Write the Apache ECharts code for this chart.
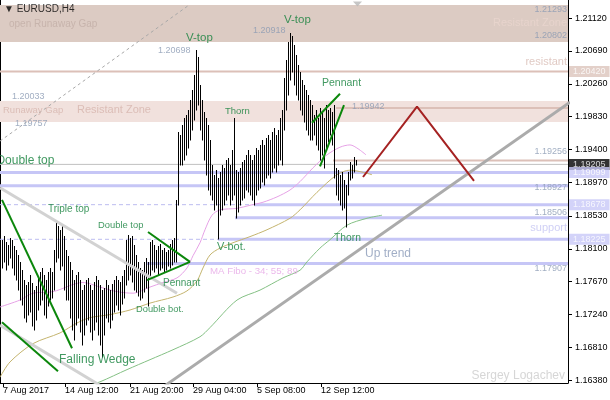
<!DOCTYPE html>
<html><head><meta charset="utf-8">
<style>html,body{margin:0;padding:0;background:#fff}#c{width:610px;height:400px}</style>
<script src="https://cdn.jsdelivr.net/npm/echarts@6/dist/echarts.min.js"></script>
</head><body><div id="c"></div>
<script>
// ---------- DATA ----------
const barHigh = [1.1822,1.1827,1.1819,1.1815,1.1824,1.1822,1.1814,1.1809,1.1802,1.1793,
1.1782,1.1769,1.1763,1.1767,1.1776,1.1765,1.1756,1.1761,1.1772,1.1780,
1.1785,1.1776,1.1769,1.1780,1.1785,1.1780,1.1809,1.1848,1.1840,1.1835,
1.1843,1.1827,1.1809,1.1801,1.1793,1.1782,1.1769,1.1776,1.1780,1.1769,
1.1756,1.1763,1.1769,1.1772,1.1763,1.1756,1.1767,1.1774,1.1769,1.1763,
1.1756,1.1759,1.1769,1.1763,1.1756,1.1764,1.1769,1.1774,1.1769,1.1767,
1.1774,1.1782,1.1822,1.1828,1.1824,1.1827,1.1815,1.1802,1.1793,1.1785,
1.1782,1.1793,1.1798,1.1793,1.1819,1.1822,1.1815,1.1809,1.1814,1.1816,
1.1809,1.1811,1.1806,1.1809,1.1816,1.1822,1.1824,1.1874,1.1963,1.1959,
1.1972,1.1981,1.1985,1.1992,1.2005,1.2018,1.2038,1.2070,1.2061,1.2024,
1.2005,1.1989,1.1981,1.1972,1.1952,1.1920,1.1907,1.1913,1.1903,1.1911,
1.1920,1.1916,1.1926,1.1929,1.1920,1.1939,1.1981,1.1913,1.1911,1.1916,
1.1924,1.1926,1.1933,1.1939,1.1933,1.1926,1.1933,1.1942,1.1939,1.1946,
1.1952,1.1946,1.1955,1.1959,1.1952,1.1963,1.1968,1.1959,1.1966,1.1981,
1.1992,1.2034,1.2057,1.2081,1.2092,1.2088,1.2077,1.2064,1.2051,1.2041,
1.2031,1.2024,1.2018,1.2011,1.2005,1.1998,1.1985,1.1992,1.1981,1.1994,
1.1989,1.1981,1.1998,1.1992,1.1994,1.1989,1.1998,1.1916,1.1913,1.1907,
1.1911,1.1900,1.1894,1.1911,1.1924,1.1920,1.1930,1.1926];
const barLow = [1.1785,1.1793,1.1782,1.1789,1.1798,1.1785,1.1776,1.1769,1.1756,1.1743,
1.1737,1.1720,1.1714,1.1724,1.1727,1.1709,1.1704,1.1717,1.1730,1.1737,
1.1743,1.1724,1.1720,1.1735,1.1743,1.1746,1.1756,1.1793,1.1798,1.1782,
1.1787,1.1756,1.1743,1.1743,1.1720,1.1704,1.1691,1.1710,1.1720,1.1701,
1.1684,1.1697,1.1710,1.1717,1.1701,1.1691,1.1704,1.1714,1.1697,1.1684,
1.1669,1.1697,1.1720,1.1714,1.1707,1.1717,1.1727,1.1737,1.1730,1.1724,
1.1738,1.1746,1.1763,1.1769,1.1776,1.1767,1.1756,1.1754,1.1748,1.1743,
1.1746,1.1754,1.1759,1.1735,1.1772,1.1782,1.1780,1.1785,1.1776,1.1782,
1.1785,1.1780,1.1782,1.1787,1.1785,1.1789,1.1793,1.1793,1.1867,1.1920,
1.1920,1.1926,1.1933,1.1942,1.1952,1.1966,1.1979,1.1992,1.1998,1.1966,
1.1952,1.1926,1.1907,1.1887,1.1881,1.1874,1.1861,1.1867,1.1823,1.1854,
1.1861,1.1867,1.1874,1.1881,1.1867,1.1874,1.1881,1.1851,1.1858,1.1867,
1.1874,1.1877,1.1887,1.1884,1.1881,1.1874,1.1868,1.1881,1.1887,1.1890,
1.1897,1.1894,1.1903,1.1907,1.1903,1.1911,1.1916,1.1911,1.1920,1.1926,
1.1920,1.1966,1.1992,1.2011,1.2031,1.2041,1.2024,1.2011,1.2005,1.1992,
1.1985,1.1976,1.1966,1.1959,1.1952,1.1952,1.1959,1.1946,1.1939,1.1926,
1.1933,1.1916,1.1942,1.1950,1.1959,1.1946,1.1903,1.1881,1.1874,1.1867,
1.1861,1.1863,1.1839,1.1881,1.1900,1.1903,1.1911,1.1920];

const priceTicks = [1.16380,1.16810,1.17240,1.17670,1.18100,1.18530,1.18970,1.19400,1.19830,1.20260,1.20690,1.21120];
const dateTickIdx = [0.5,31.5,64,95.5,127.5,159.5];
const dateTickLabels = ['7 Aug 2017','14 Aug 12:00','21 Aug 20:00','29 Aug 04:00','5 Sep 08:00','12 Sep 12:00'];

// moving averages [bar index, price]
const ma34 = [[-1,1.1734],[9,1.1743],[15.5,1.1752],[25.5,1.1754],[40.5,1.1766],[49,1.1760],[57.5,1.1754],[65.5,1.1752],[74,1.1760],[80.5,1.1766],[87.5,1.1772],[92.5,1.1785],[95.5,1.1801],[99,1.1818],[101.5,1.1835],[105,1.1854],[109,1.1861],[117.5,1.1863],[124,1.1867],[130.5,1.1871],[137.5,1.1878],[144,1.1887],[149,1.1898],[155.5,1.1916],[162.5,1.1933],[169,1.1943],[174,1.1946],[178,1.1941],[182,1.1933]];
const ma55 = [[-1,1.1642],[4,1.1662],[15.5,1.1686],[29,1.1700],[37.5,1.1713],[44,1.1720],[54,1.1724],[64,1.1730],[74,1.1739],[85.5,1.1747],[92.5,1.1755],[97.5,1.1768],[100.5,1.1785],[104,1.1802],[109,1.1811],[115.5,1.1818],[124,1.1826],[132.5,1.1835],[144,1.1850],[149,1.1861],[157.5,1.1884],[167.5,1.1907],[174,1.1913],[185,1.1907]];
const ma89 = [[45,1.1633],[49,1.1636],[62.5,1.1652],[74,1.1665],[85.5,1.1678],[99,1.1695],[104,1.1707],[117.5,1.1743],[129,1.1756],[140.5,1.1772],[149,1.1782],[152.5,1.1793],[159,1.1811],[164,1.1822],[172.5,1.1841],[182.5,1.1850],[190,1.1854]];

// drawn objects [bar index, price]
const wedgeTop = [[0,1.1874],[35,1.1680]];
const wedgeBottom = [[0,1.1714],[28,1.1650]];
const pennantLeftUpper = [[73,1.1832],[94,1.1793]];
const pennantLeftLower = [[72.5,1.1769],[94,1.1793]];
const pennantRightUpper = [[155,1.1975],[169,1.2013]];
const pennantRightLower = [[159,1.1918],[171,1.1998]];
const channelDashed = [[-1,1.1951],[93,1.2128]];
const channelTop = [[-1,1.1890],[87.5,1.1752]];
const channelBottom = [[-1,1.1710],[50.5,1.1629]];
const upTrend = [[81.5,1.1631],[284,1.2002]];
const projection = [[180.5,1.1904],[207.5,1.1996],[236,1.1899]];

// horizontal levels
const zones = [[1.20802,1.21293],[1.19757,1.20033]];
const brownLevels = [1.20420,1.19942,1.19256];
const brownLevelStart = [-1,167,165.5];
const blueLevels = [1.19099,1.18927,1.18678,1.18506,1.18225,1.17907];
const blueLevelStart = [-1,-1,126,116.5,108,72.5];
const dashedLevels = [1.18678,1.18225];
const dashedLevelEnd = [126,108];
const bidPrice = 1.19205;
const tagPrices = [1.20420,1.19205,1.19099,1.18678,1.18225];

// ---------- LAYOUT / STYLE ----------
const X_MIN = -1, X_MAX = 283;
const Y_MIN = 1.163448, Y_MAX = 1.21356;
const FONT = 'Liberation Sans';
const tagBg = ['#dcc4bc','#000000','#c8c8f8','#c8c8f8','#c8c8f8'];
const zoneColors = ['#dccbc3','#f1e1dd'];

const S = {
  title:{color:'#000',fontSize:10},
  num:{color:'#8a9ab3',fontSize:9},
  pat:{color:'#12803a',textShadowColor:'#e6d21e',textShadowOffsetX:-1,textShadowOffsetY:0,textShadowBlur:0},
  zoneTop:{color:'#c2aea6',fontSize:10},
  zoneTopR:{color:'#ead6ce',fontSize:11},
  zoneMid:{color:'#d6b4ac'},
  res:{color:'#d8bcb4',fontSize:11},
  sup:{color:'#c4c4f2',fontSize:11},
  trend:{color:'#8a9ab8',fontSize:12},
  ma:{color:'#e6a6e6',fontSize:9.7},
  sign:{color:'#cccccc',fontSize:12}
};
const notes = [
  {t:'\u25BC EURUSD,H4',at:[1,1.21238],s:'title'},
  {t:'open Runaway Gap',at:[3.5,1.21042],s:'zoneTop'},
  {t:'Resistant Zone',at:[282.5,1.21055],s:'zoneTopR',r:1},
  {t:'1.21293',at:[282.5,1.21225],s:'num',r:1},
  {t:'1.20802',at:[282.5,1.20885],s:'num',r:1},
  {t:'resistant',at:[282.5,1.20545],s:'res',r:1},
  {t:'1.20698',at:[78,1.20689],s:'num'},
  {t:'1.20918',at:[125.5,1.20963],s:'num'},
  {t:'V-top',at:[92,1.20859],s:'pat',f:11.5},
  {t:'V-top',at:[141,1.21094],s:'pat',f:11.5},
  {t:'1.20033',at:[5,1.20087],s:'num'},
  {t:'Runaway Gap',at:[0.5,1.19917],s:'zoneMid',f:9.5},
  {t:'Resistant Zone',at:[37.5,1.19917],s:'zoneMid',f:11},
  {t:'1.19757',at:[6.5,1.19734],s:'num'},
  {t:'Thorn',at:[111.5,1.19904],s:'pat',f:9.5},
  {t:'Pennant',at:[160,1.20270],s:'pat',f:10.5},
  {t:'1.19942',at:[175,1.19956],s:'num'},
  {t:'1.19256',at:[282.5,1.19380],s:'num',r:1},
  {t:'Double top',at:[-2.8,1.19249],s:'pat',f:12},
  {t:'1.18927',at:[282.5,1.18909],s:'num',r:1},
  {t:'Triple top',at:[23,1.18621],s:'pat',f:10},
  {t:'Double top',at:[48,1.18412],s:'pat',f:9.4},
  {t:'1.18506',at:[282.5,1.18569],s:'num',r:1},
  {t:'support',at:[282.5,1.18373],s:'sup',r:1},
  {t:'Thorn',at:[166,1.18242],s:'pat',f:10.3},
  {t:'V-bot.',at:[107.5,1.18124],s:'pat',f:11},
  {t:'Up trend',at:[181.5,1.18033],s:'trend'},
  {t:'1.17907',at:[282.5,1.17849],s:'num',r:1},
  {t:'MA Fibo - 34; 55; 89',at:[104,1.17810],s:'ma'},
  {t:'Pennant',at:[80.5,1.17653],s:'pat',f:10},
  {t:'Double bot.',at:[67,1.17313],s:'pat',f:9.3},
  {t:'Falling Wedge',at:[28.5,1.16646],s:'pat',f:12},
  {t:'Sergey Logachev',at:[281.5,1.16437],s:'sign',r:1}
];

// ---------- BUILD ----------
const series = [];
series.push({
  type:'custom', z:1, silent:true, clip:false,
  data: zones, encode:{y:[0,1]},
  renderItem:(params, api)=>{
    const a = api.coord([X_MIN, api.value(1)]);
    const b = api.coord([X_MAX, api.value(0)]);
    const y0 = Math.round(a[1]), y1 = Math.round(b[1]);
    return {type:'rect', shape:{x:a[0], y:y0, width:b[0]-a[0], height:y1-y0}, style:{fill:zoneColors[params.dataIndex]}};
  }
});
function hline(data, color, width, z, dash){
  return {type:'line', data, symbol:'none', silent:true, z,
    lineStyle:{color, width, type: dash || 'solid'}};
}
brownLevels.forEach((p,k)=>series.push(hline([[brownLevelStart[k],p],[X_MAX,p]],'#dcc0b8',2,2)));
dashedLevels.forEach((p,k)=>series.push(hline([[X_MIN,p],[dashedLevelEnd[k],p]],'#bcbcf0',1,2,[4,3])));
blueLevels.forEach((p,k)=>series.push(hline([[blueLevelStart[k],p],[X_MAX,p]],'#c6c6f6',3,2)));
series.push(hline([[X_MIN,bidPrice],[X_MAX,bidPrice]],'#c0c0c0',1,2));

// moving averages
[[ma34,'#e6a2e6'],[ma55,'#c4b46e'],[ma89,'#84c084']].forEach(([d,c])=>{
  series.push({type:'line', data:d, symbol:'none', silent:true, z:3, smooth:0.3, lineStyle:{color:c, width:1}});
});

// price bars
series.push({
  type:'custom', z:4, silent:true,
  data: barHigh.map((h,i)=>[i, barLow[i], h]),
  encode:{x:0, y:[1,2]},
  renderItem:(params, api)=>{
    const v = api.value(0);
    const lo = api.coord([v, api.value(1)]);
    const hi = api.coord([v, api.value(2)]);
    const x = Math.round(lo[0]) + 0.5;
    return {type:'line', shape:{x1:x, y1:Math.round(lo[1])+0.5, x2:x, y2:Math.round(hi[1])}, style:{stroke:'#000', lineWidth:1}};
  }
});

// drawn trend objects
function tline(data, color, width, dash){
  return {type:'line', data, symbol:'none', silent:true, z:5, lineStyle:{color, width, type: dash || 'solid'}};
}
series.push(tline(channelDashed,'#a8a8a8',1,[3,3]));
series.push(tline(channelTop,'#d2d2d2',3));
series.push(tline(channelBottom,'#d2d2d2',3));
series.push(tline(upTrend,'#ababab',3));
[wedgeTop,wedgeBottom,pennantLeftUpper,pennantLeftLower,pennantRightUpper,pennantRightLower].forEach(d=>series.push(tline(d,'#0b870b',2)));
series.push(tline(projection,'#a52222',2));

// chart-shift marker
series.push({type:'scatter', z:6, silent:true, clip:false, symbol:'triangle', symbolRotate:180, symbolSize:[9,5],
  itemStyle:{color:'#b8b8b8'}, data:[[177.75,1.21304]]});

// text annotations
series.push({
  type:'scatter', z:7, silent:true, clip:false, symbolSize:0,
  data: notes.map(n=>{
    const st = Object.assign({fontFamily:FONT, fontSize:11}, S[n.s]);
    if(n.f) st.fontSize = n.f;
    return {value:n.at, label:Object.assign({show:true, formatter:n.t, position:n.r?'left':'right', distance:0, verticalAlign:'middle'}, st)};
  })
});

// price tags on the axis
series.push({
  type:'scatter', z:8, silent:true, clip:false, symbolSize:0,
  data: tagPrices.map((p,k)=>({value:[X_MAX,p], label:{show:true, formatter:p.toFixed(5), position:'right', distance:1,
    backgroundColor:tagBg[k], color:'#fff', fontFamily:FONT, fontSize:9, lineHeight:10, padding:[1,4,0,4], verticalAlign:'middle'}}))
});

const chart = echarts.init(document.getElementById('c'), null, {renderer:'canvas'});
chart.setOption({
  animation:false,
  backgroundColor:'#fff',
  grid:{left:0, right:42, top:0, bottom:17, containLabel:false, outerBoundsMode:'none'},
  xAxis:{type:'value', min:X_MIN, max:X_MAX,
    axisLine:{show:true, onZero:false, lineStyle:{color:'#000', width:1}},
    axisTick:{show:true, inside:false, length:4, customValues:dateTickIdx, lineStyle:{color:'#000'}},
    axisLabel:{show:true, customValues:dateTickIdx, margin:3, align:'left', color:'#000', fontFamily:FONT, fontSize:9,
      formatter:(v)=>{const k=dateTickIdx.indexOf(v); return k>=0?dateTickLabels[k]:'';}},
    splitLine:{show:false}},
  yAxis:[
    {type:'value', position:'right', min:Y_MIN, max:Y_MAX,
      axisLine:{show:true, onZero:false, lineStyle:{color:'#000', width:1}},
      axisTick:{show:true, inside:false, length:4, customValues:priceTicks, lineStyle:{color:'#000'}},
      axisLabel:{show:true, customValues:priceTicks, margin:7, color:'#000', fontFamily:FONT, fontSize:9,
        formatter:(v)=>v.toFixed(5)},
      splitLine:{show:false}},
    {type:'value', position:'left', min:Y_MIN, max:Y_MAX,
      axisLine:{show:true, onZero:false, lineStyle:{color:'#000', width:2}},
      axisTick:{show:false}, axisLabel:{show:false}, splitLine:{show:false}}
  ],
  series
});
</script>
</body></html>
